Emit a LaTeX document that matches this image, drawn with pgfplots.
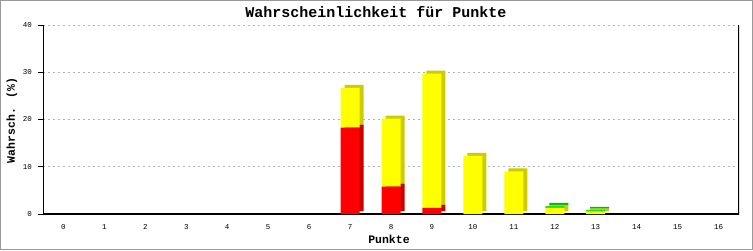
\documentclass[border=0pt]{standalone}
\usepackage{fontspec}
\setmainfont{Liberation Mono}
\usepackage{pgfplots}
\pgfplotsset{compat=1.18}
\definecolor{fred}{HTML}{FF0000}
\definecolor{dred}{HTML}{C80000}
\definecolor{fyel}{HTML}{FFFF00}
\definecolor{dyel}{HTML}{CCCC00}
\definecolor{fgrn}{HTML}{22DD22}
\definecolor{dgrn}{HTML}{00BB00}
\pgfplotsset{
  base/.style={
    scale only axis, width=696pt, height=189pt,
    at={(43pt,36pt)}, anchor=south west,
    xmin=-0.5, xmax=16.5, ymin=0, ymax=40,
  },
  barax/.style={base, hide axis, ybar stacked, bar width=19pt},
}
\begin{document}
\begin{tikzpicture}[x=1pt,y=1pt]
\useasboundingbox (0,0) rectangle (753,250);
\fill[white] (0,0) rectangle (753,250);
\draw[gray!80, line width=1.2pt] (0.6,0.6) rectangle (752.4,249.4);
% grid, ticks, labels
\begin{axis}[base,
  axis line style={draw=none},
  /pgf/number format/assume math mode=true,
  xtick={0,...,16}, ytick={0,10,20,30,40},
  ymajorgrids, major grid style={gray!60, line width=0.9pt, dash pattern=on 2pt off 3pt},
  tick align=outside, major tick length=5pt,
  xtick style={draw=none},
  ytick style={black, line width=0.9pt},
  xtick pos=bottom, ytick pos=left,
  ticklabel style={font=\fontsize{7.5}{8}\selectfont},
  yticklabel style={anchor=east, inner sep=0pt, xshift=-6pt},
  xticklabel style={anchor=north, inner sep=0pt, yshift=-5pt},
  title={Wahrscheinlichkeit für Punkte},
  title style={font=\fontsize{15}{16}\selectfont\bfseries, at={(axis description cs:0.5,1)}, anchor=center, yshift=7pt, xshift=-15pt},
  xlabel={Punkte},
  xlabel style={font=\fontsize{11.5}{12}\selectfont\bfseries, at={(axis description cs:0.5,0)}, anchor=center, yshift=-25pt, xshift=-2pt},
  ylabel={Wahrsch. (\%)},
  ylabel style={font=\fontsize{11.5}{12}\selectfont\bfseries, at={(axis description cs:0,0.5)}, anchor=center, xshift=-1pt, yshift=31pt},
]
\addplot[draw=none] coordinates {(0,0)};
\end{axis}
% 3D side/top faces
\begin{axis}[barax]
\addplot[fill=dred, draw=none, xshift=4pt, yshift=3pt] coordinates {(7,18.3) (8,5.8) (9,1.3) (10,0) (11,0) (12,0) (13,0)};
\addplot[fill=dyel, draw=none, xshift=4pt, yshift=3pt] coordinates {(7,8.4) (8,14.4) (9,28.4) (10,12.3) (11,9.0) (12,1.3) (13,0.5)};
\addplot[fill=dgrn, draw=none, xshift=4pt, yshift=3pt] coordinates {(7,0) (8,0) (9,0) (10,0) (11,0) (12,0.4) (13,0.4)};
\end{axis}
% front faces
\begin{axis}[barax]
\addplot[fill=fred, draw=none] coordinates {(7,18.3) (8,5.8) (9,1.3) (10,0) (11,0) (12,0) (13,0)};
\addplot[fill=fyel, draw=none] coordinates {(7,8.4) (8,14.4) (9,28.4) (10,12.3) (11,9.0) (12,1.3) (13,0.5)};
\addplot[fill=fgrn, draw=none] coordinates {(7,0) (8,0) (9,0) (10,0) (11,0) (12,0.4) (13,0.4)};
\draw[black, line width=1.6pt] (rel axis cs:0,1) -- (rel axis cs:0,0) -- (rel axis cs:1,0) -- (rel axis cs:1,1);
\end{axis}
\end{tikzpicture}
\end{document}
